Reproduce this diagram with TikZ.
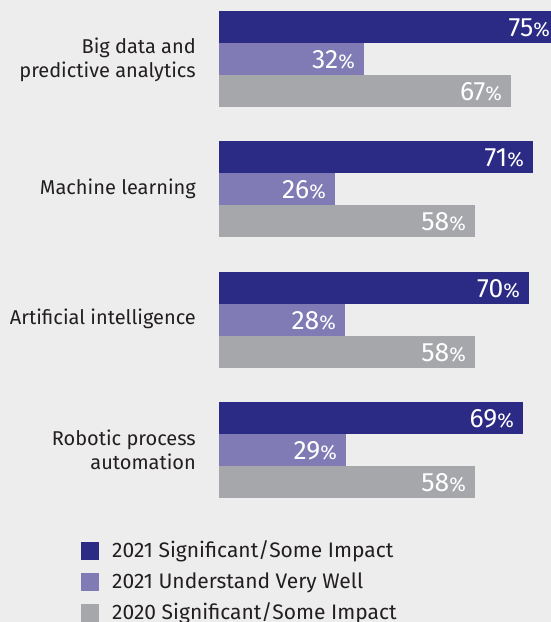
\documentclass[tikz,border=0pt]{standalone}
\usepackage{fontspec}
\setmainfont{Fira Sans}
\definecolor{bgc}{HTML}{EDEDED}
\definecolor{navy}{HTML}{2B2A85}
\definecolor{lav}{HTML}{807AB5}
\definecolor{grayb}{HTML}{A6A7AB}
\definecolor{txt}{HTML}{231F20}
\newcommand\mybar[5]{%
  \fill[#2] (219,#3) rectangle (#4,#3+32);
  \node[val] (#1) at (#4-9,#3+25.5) {{\fontsize{26.5}{26}\selectfont #5}{\fontsize{20}{20}\selectfont\%}};
}
\tikzset{
  val/.style={anchor=base east, inner sep=0pt, text=white},
  lab/.style={anchor=east, inner sep=0pt, align=right, text=txt, font=\fontsize{20}{24}\selectfont},
  legsq/.style={anchor=north west, inner sep=0pt, minimum size=18pt},
  legtxt/.style={anchor=base west, inner sep=0pt, text=txt, font=\fontsize{21}{24}\selectfont},
}
\begin{document}
\begin{tikzpicture}[x=1pt,y=-1pt]
\fill[bgc] (0,0) rectangle (551,622);
\useasboundingbox (0,0) rectangle (551,622);
\begin{scope}
\clip (0,0) rectangle (551,622);
% group 1
\mybar{v1a}{navy}{11}{559}{75}
\mybar{v1b}{lav}{43}{364}{32}
\mybar{v1c}{grayb}{75}{511}{67}
\node[lab] (l1) at (196,60) {Big data and\\predictive analytics};
% group 2
\mybar{v2a}{navy}{141}{533}{71}
\mybar{v2b}{lav}{173}{335}{26}
\mybar{v2c}{grayb}{205}{475}{58}
\node[lab] (l2) at (196,189) {Machine learning};
% group 3
\mybar{v3a}{navy}{272}{529}{70}
\mybar{v3b}{lav}{304}{345}{28}
\mybar{v3c}{grayb}{336}{475}{58}
\node[lab] (l3) at (196,319) {Artificial intelligence};
% group 4
\mybar{v4a}{navy}{402}{523}{69}
\mybar{v4b}{lav}{434}{346}{29}
\mybar{v4c}{grayb}{466}{475}{58}
\node[lab] (l4) at (196,450) {Robotic process\\automation};
% legend
\node[legsq, fill=navy] (s1) at (81,542) {};
\node[legsq, fill=lav] (s2) at (81,573) {};
\node[legsq, fill=grayb] (s3) at (81,604) {};
\node[legtxt] (t1) at (112,557) {2021 Significant/Some Impact};
\node[legtxt] (t2) at (112,588) {2021 Understand Very Well};
\node[legtxt] (t3) at (112,619) {2020 Significant/Some Impact};
\end{scope}
\end{tikzpicture}
\end{document}
